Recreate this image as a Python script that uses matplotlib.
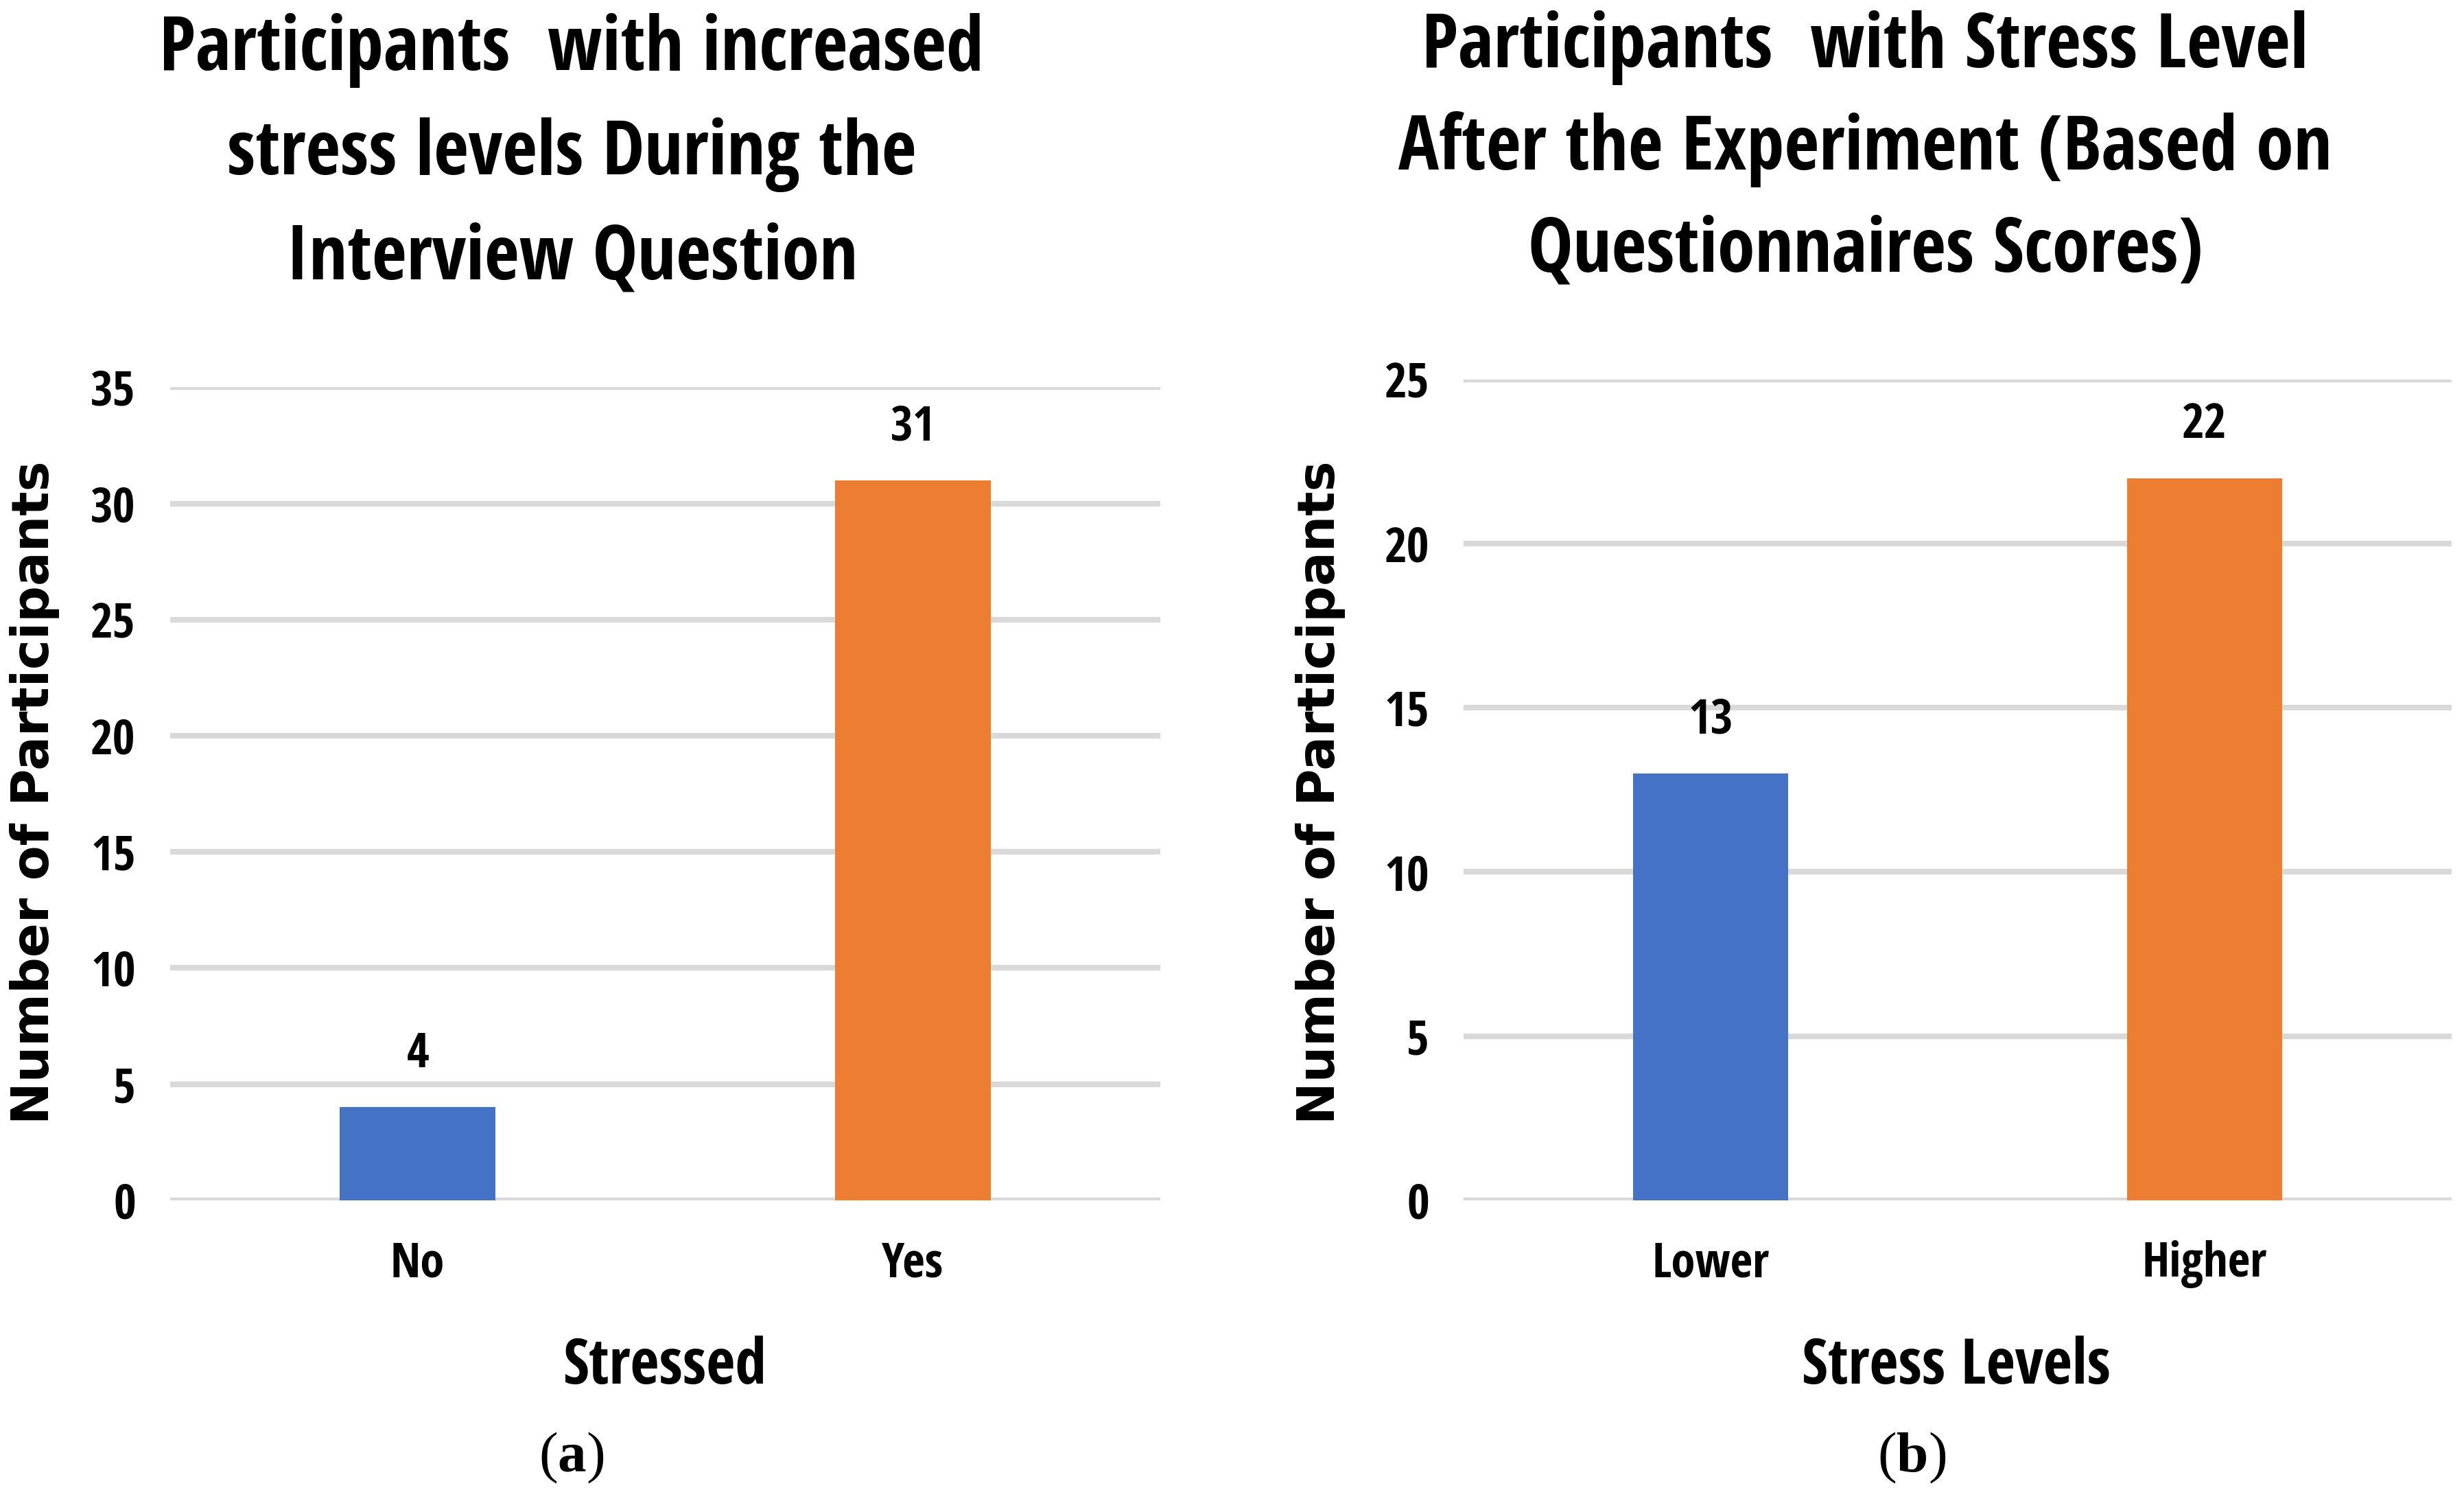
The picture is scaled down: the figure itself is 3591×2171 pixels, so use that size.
import matplotlib.pyplot as plt

plt.rcParams['mathtext.fontset'] = 'custom'
plt.rcParams['mathtext.rm'] = 'Liberation Serif'
plt.rcParams['mathtext.bf'] = 'Liberation Serif:bold'

# data
cats_a = ['No', 'Yes']
vals_a = [4, 31]
cats_b = ['Lower', 'Higher']
vals_b = [13, 22]
colors = ['#4472C4', '#ED7D31']

title_a = ['Participants  with increased', 'stress levels During the', 'Interview Question']
title_b = ['Participants  with Stress Level', 'After the Experiment (Based on', 'Questionnaires Scores)']

narrow = ['Open Sans Condensed', 'Roboto Condensed', 'Liberation Sans Narrow', 'Lato', 'DejaVu Sans']

fig = plt.figure(figsize=(11.97, 7.237), dpi=300)
ax1 = fig.add_axes([0.069, 0.1945, 0.402, 0.5455])
ax2 = fig.add_axes([0.594, 0.1945, 0.401, 0.5507])


def draw_panel(ax, cats, vals, ymax):
    x = range(len(cats))
    bars = ax.bar(x, vals, width=0.315, color=colors, zorder=3)
    ax.set_xlim(-0.5, 1.5)
    ax.set_ylim(0, ymax)
    ax.set_yticks(range(0, ymax + 1, 5))
    ax.set_xticks(list(x))
    ax.set_xticklabels(cats, family=narrow, fontsize=17, fontweight='bold')
    for lab in ax.get_yticklabels():
        lab.set_family(narrow)
        lab.set_fontsize(17)
        lab.set_fontweight('bold')
    ax.tick_params(axis='both', length=0)
    ax.tick_params(axis='x', pad=14)
    ax.tick_params(axis='y', pad=12)
    ax.grid(axis='y', color='#d9d9d9', linewidth=2.0, zorder=0)
    ax.set_axisbelow(True)
    for s in ax.spines.values():
        s.set_visible(False)
    for b, v in zip(bars, vals):
        ax.annotate(str(v), (b.get_x() + b.get_width() / 2, v),
                    xytext=(0, 10), textcoords='offset points',
                    ha='center', va='bottom', family=narrow,
                    fontsize=17, fontweight='bold')


draw_panel(ax1, cats_a, vals_a, 35)
draw_panel(ax2, cats_b, vals_b, 25)

# titles, one line at a time
for t, y in zip(title_a, [0.966, 0.896, 0.826]):
    fig.text(0.232, y, t, ha='center', va='center', family=narrow,
             fontsize=26.5, fontweight='bold')
for t, y in zip(title_b, [0.968, 0.900, 0.831]):
    fig.text(0.757, y, t, ha='center', va='center', family=narrow,
             fontsize=26.5, fontweight='bold')

# axis labels
fig.text(0.014, 0.468, 'Number of Participants', rotation=90, ha='center',
         va='center', family='DejaVu Sans', fontsize=17.7, fontweight='bold')
fig.text(0.536, 0.468, 'Number of Participants', rotation=90, ha='center',
         va='center', family='DejaVu Sans', fontsize=17.7, fontweight='bold')
fig.text(0.270, 0.0825, 'Stressed', ha='center', va='center', family=narrow,
         fontsize=22, fontweight='bold')
fig.text(0.794, 0.0825, 'Stress Levels', ha='center', va='center', family=narrow,
         fontsize=22, fontweight='bold')

# sub-figure letters
fig.text(0.232, 0.022, r'$\mathrm{(}\mathbf{a}\mathrm{)}$', ha='center', va='center', fontsize=20)
fig.text(0.776, 0.022, r'$\mathrm{(}\mathbf{b}\mathrm{)}$', ha='center', va='center', fontsize=20)

fig.savefig('out.png', dpi=300)
